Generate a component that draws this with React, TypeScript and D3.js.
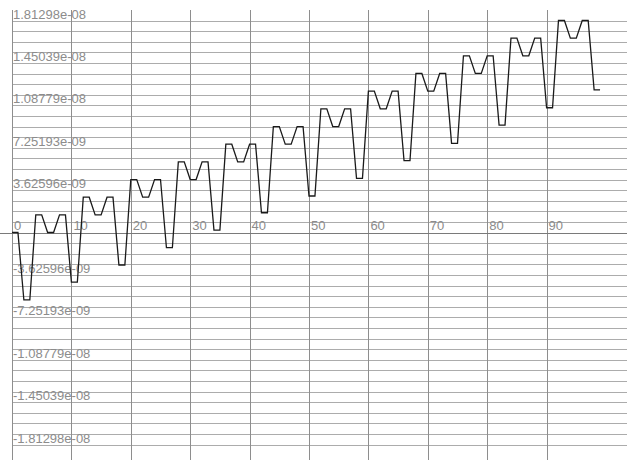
import React from "react";
import * as d3 from "d3";

// Series values (units of 1e-9), one per integer x step
const seriesE9: number[] = [
  0, 0,
  -5.77, -5.77, 1.51, 1.51, 0, 0, 1.51, 1.51,
  -4.25, -4.25, 3.02, 3.02, 1.51, 1.51, 3.02, 3.02,
  -2.78, -2.78, 4.53, 4.53, 3.02, 3.02, 4.53, 4.53,
  -1.3, -1.3, 6.04, 6.04, 4.53, 4.53, 6.04, 6.04,
  0.21, 0.21, 7.55, 7.55, 6.04, 6.04, 7.55, 7.55,
  1.69, 1.69, 9.06, 9.06, 7.55, 7.55, 9.06, 9.06,
  3.12, 3.12, 10.58, 10.58, 9.06, 9.06, 10.58, 10.58,
  4.63, 4.63, 12.09, 12.09, 10.58, 10.58, 12.09, 12.09,
  6.14, 6.14, 13.6, 13.6, 12.09, 12.09, 13.6, 13.6,
  7.63, 7.63, 15.11, 15.11, 13.6, 13.6, 15.11, 15.11,
  9.19, 9.19, 16.62, 16.62, 15.11, 15.11, 16.62, 16.62,
  10.67, 10.67, 18.1298, 18.1298, 16.62, 16.62, 18.1298, 18.1298,
  12.2, 12.2,
];

const xTickValues: number[] = [0, 10, 20, 30, 40, 50, 60, 70, 80, 90];
const xTickLabels: string[] = ["0", "10", "20", "30", "40", "50", "60", "70", "80", "90"];

const yMax = 1.81298e-8;
const yLabelValues: number[] = [
  1.81298e-8, 1.45039e-8, 1.08779e-8, 7.25193e-9, 3.62596e-9,
  -3.62596e-9, -7.25193e-9, -1.08779e-8, -1.45039e-8, -1.81298e-8,
];
const yLabelTexts: string[] = [
  "1.81298e-08", "1.45039e-08", "1.08779e-08", "7.25193e-09", "3.62596e-09",
  "-3.62596e-09", "-7.25193e-09", "-1.08779e-08", "-1.45039e-08", "-1.81298e-08",
];

const W = 634;
const H = 460;
const plotLeft = 12;
const plotTop = 10;
const plotRight = 627;

export default function App() {
  const x = d3.scaleLinear().domain([0, 10]).range([12, 71.4]);
  const y = d3.scaleLinear().domain([-yMax, yMax]).range([444.5, 20.5]);

  const data = seriesE9.map((v, i) => ({ x: i, y: v * 1e-9 }));
  const line = d3
    .line<{ x: number; y: number }>()
    .x((d) => x(d.x))
    .y((d) => y(d.y));

  const gridStep = yMax / 20;
  const hGrid = d3.range(-20, 21).filter((k) => k !== 0).map((k) => k * gridStep);

  const font = "'Liberation Sans', Arial, sans-serif";

  return (
    <svg
      width={W}
      height={H}
      style={{ position: "absolute", left: 0, top: 0, background: "#fff" }}
    >
      <defs>
        <clipPath id="plotClip">
          <rect x={0} y={plotTop} width={W} height={H - plotTop} />
        </clipPath>
      </defs>
      <g clipPath="url(#plotClip)">
        {hGrid.map((v, i) => (
          <line
            key={"h" + i}
            x1={plotLeft}
            x2={plotRight}
            y1={Math.round(y(v)) + 0.5}
            y2={Math.round(y(v)) + 0.5}
            stroke="#acacac"
            strokeWidth={1}
          />
        ))}
        {xTickValues.map((v, i) => (
          <line
            key={"v" + i}
            x1={Math.round(x(v)) + 0.5}
            x2={Math.round(x(v)) + 0.5}
            y1={plotTop}
            y2={H}
            stroke="#8e8e8e"
            strokeWidth={1}
          />
        ))}
        <line
          x1={0}
          x2={plotRight}
          y1={Math.round(y(0)) + 0.5}
          y2={Math.round(y(0)) + 0.5}
          stroke="#7a7a7a"
          strokeWidth={1}
        />
        {yLabelValues.map((v, i) => (
          <text
            key={"yl" + i}
            x={13}
            y={y(v) - 2}
            fontFamily={font}
            fontSize={13}
            fill="#8c8c8c"
          >
            {yLabelTexts[i]}
          </text>
        ))}
        {xTickValues.map((v, i) => (
          <text
            key={"xl" + i}
            x={x(v) + 2}
            y={y(0) - 3}
            fontFamily={font}
            fontSize={13}
            fill="#8c8c8c"
          >
            {xTickLabels[i]}
          </text>
        ))}
        <path
          d={line(data) || ""}
          fill="none"
          stroke="#1a1a1a"
          strokeWidth={1.3}
          strokeLinejoin="miter"
        />
      </g>
    </svg>
  );
}
